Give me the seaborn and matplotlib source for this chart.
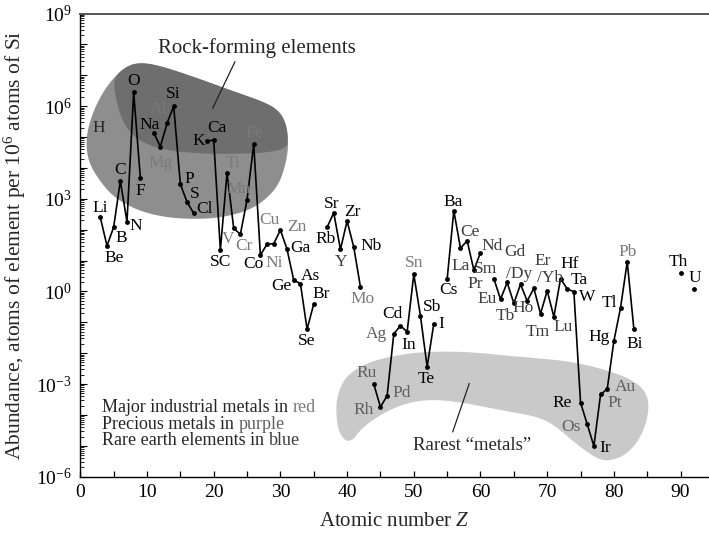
import numpy as np
import pandas as pd
import matplotlib
matplotlib.use("Agg")
import matplotlib.pyplot as plt
import seaborn as sns
from matplotlib.ticker import FixedLocator, FuncFormatter, LogLocator, MultipleLocator, NullFormatter

# ---------------- data ----------------
elements = ["Li", "Be", "B", "C", "N", "O", "F",
            "Na", "Mg", "Al", "Si", "P", "S", "Cl",
            "K", "Ca", "Sc", "Ti", "V", "Cr", "Mn", "Fe", "Co", "Ni", "Cu", "Zn",
            "Ga", "Ge", "As", "Se", "Br",
            "Rb", "Sr", "Y", "Zr", "Nb", "Mo",
            "Ru", "Rh", "Pd", "Ag", "Cd", "In", "Sn", "Sb", "Te", "I",
            "Cs", "Ba", "La", "Ce", "Pr", "Nd",
            "Sm", "Eu", "Gd", "Tb", "Dy", "Ho", "Er", "Tm", "Yb", "Lu",
            "Hf", "Ta", "W", "Re", "Os", "Ir", "Pt", "Au", "Hg", "Tl", "Pb", "Bi",
            "Th", "U"]
atomic_number = [3, 4, 5, 6, 7, 8, 9,
                 11, 12, 13, 14, 15, 16, 17,
                 19, 20, 21, 22, 23, 24, 25, 26, 27, 28, 29, 30,
                 31, 32, 33, 34, 35,
                 37, 38, 39, 40, 41, 42,
                 44, 45, 46, 47, 48, 49, 50, 51, 52, 53,
                 55, 56, 57, 58, 59, 60,
                 62, 63, 64, 65, 66, 67, 68, 69, 70, 71,
                 72, 73, 74, 75, 76, 77, 78, 79, 80, 81, 82, 83,
                 90, 92]
abundance = [2.5e2, 3.0e1, 1.2e2, 3.8e3, 1.8e2, 2.8e6, 4.8e3,
             1.4e5, 4.9e4, 2.75e5, 1.0e6, 3.0e3, 7.9e2, 3.4e2,
             7.4e4, 7.9e4, 2.2e1, 6.9e3, 1.1e2, 7.1e1, 9.3e2, 5.9e4, 1.5e1, 3.4e1, 3.5e1, 9.8e1,
             2.3e1, 2.3, 1.8, 6.0e-2, 3.9e-1,
             1.2e2, 3.5e2, 2.3e1, 1.9e2, 2.7e1, 1.4,
             1.0e-3, 1.8e-4, 4.2e-4, 4.2e-2, 7.8e-2, 4.9e-2, 3.6, 1.6e-1, 3.6e-3, 9.1e-2,
             2.5, 4.1e2, 2.5e1, 4.4e1, 4.9, 1.8e1,
             2.6, 5.6e-1, 1.95, 4.1e-1, 1.7, 4.9e-1, 1.26, 1.9e-1, 1.05, 1.5e-1,
             2.6, 1.2, 0.98, 2.5e-4, 5.0e-5, 9.8e-6, 4.6e-4, 6.9e-4, 2.5e-2, 3.0e-1, 9.1, 5.9e-2,
             4.0, 1.2]

label_text = {"Sc": "SC", "Dy": "/Dy", "Yb": "/Yb"}
industrial_metals = ["Mg", "Al", "Ti", "V", "Cr", "Mn", "Fe", "Ni", "Cu", "Zn", "Mo", "Sn", "Pb"]
precious_metals = ["Ru", "Rh", "Pd", "Ag", "Os", "Pt", "Au"]
rare_earths = ["Y", "La", "Ce", "Pr", "Nd", "Sm", "Eu", "Gd", "Tb", "Dy", "Ho", "Er", "Tm", "Yb", "Lu"]

x_ticks = [0, 10, 20, 30, 40, 50, 60, 70, 80, 90]
y_exponents = [-6, -3, 0, 3, 6, 9]

# label offsets (pixels, right / down)
label_offset = {
    "Li": (0, -9), "Be": (7, 12), "B": (8, 11), "C": (0, -11), "N": (9, 4), "O": (0, -11),
    "F": (0, 13), "Na": (-4, -8), "Mg": (0, 16), "Al": (-8, -14), "Si": (0, -12),
    "P": (9, -5), "S": (8, -8), "Cl": (11, -4), "K": (-8, 0), "Ca": (3, -12),
    "Sc": (0, 12), "Ti": (6, -10), "V": (-6, 11), "Cr": (4, 12), "Mn": (-8, -11),
    "Fe": (0, -11), "Co": (-7, 9), "Ni": (7, 19), "Cu": (-4, -24), "Zn": (16, -3),
    "Ga": (13, -1), "Ge": (-12, 6), "As": (10, -8), "Se": (0, 12), "Br": (7, -10),
    "Rb": (-2, 12), "Sr": (-2, -9), "Y": (1, 13), "Zr": (5, -9), "Nb": (17, -1),
    "Mo": (2, 12), "Ru": (-7, -11), "Rh": (-17, 3), "Pd": (15, -3), "Ag": (-17, 0),
    "Cd": (-8, -12), "In": (2, 13), "Sn": (0, -11), "Sb": (12, -9), "Te": (-1, 12),
    "I": (7, 0), "Cs": (1, 11), "Ba": (-1, -9), "La": (0, 18), "Ce": (3, -9),
    "Pr": (1, 14), "Nd": (12, -7), "Sm": (-8, -10), "Eu": (-13, 0), "Gd": (8, -30),
    "Tb": (-9, 13), "Dy": (-1, -10), "Ho": (-4, 7), "Er": (9, -27), "Tm": (-3, 18),
    "Yb": (3, -13), "Lu": (9, 10), "Hf": (9, -15), "Ta": (12, -9), "W": (13, 5),
    "Re": (-18, 0), "Os": (-16, 3), "Ir": (11, 2), "Pt": (14, 9), "Au": (18, -2),
    "Hg": (-15, -4), "Tl": (-11, -5), "Pb": (0, -10), "Bi": (1, 15), "Th": (-2, -11),
    "U": (1, -11),
}

# outlines of the shaded regions (Z, log10 abundance)
rock_outer = [(4.90, 6.91), (7.15, 7.33), (9.40, 7.41), (12.40, 7.28), (17.50, 6.91),
              (22.44, 6.52), (27.99, 6.10), (29.94, 5.81), (30.84, 5.42), (31.14, 5.00),
              (31.14, 4.58), (30.69, 4.03), (29.64, 3.41), (27.54, 2.93), (24.99, 2.60),
              (20.94, 2.38), (16.45, 2.34), (12.40, 2.41), (8.50, 2.63), (4.90, 3.06),
              (2.50, 3.70), (1.15, 4.25), (0.85, 4.90), (1.45, 5.55), (2.95, 6.30)]
rock_inner = [(4.90, 6.91), (7.15, 7.33), (9.40, 7.41), (12.40, 7.28), (17.50, 6.91),
              (22.44, 6.52), (27.99, 6.10), (29.94, 5.81), (30.84, 5.42), (31.14, 5.00),
              (30.99, 4.64), (27.99, 4.49), (22.44, 4.45), (17.50, 4.47), (12.40, 4.58),
              (8.50, 4.90), (6.40, 5.45), (5.35, 6.20)]
rare_blob = [(38.49, -3.42), (39.24, -2.97), (40.44, -2.65), (42.68, -2.35), (45.38, -2.16),
             (49.43, -2.00), (52.87, -1.95), (56.92, -1.95), (60.37, -2.00), (64.42, -2.09),
             (68.92, -2.17), (73.87, -2.28), (78.97, -2.55), (82.87, -2.87), (84.97, -3.29),
             (85.27, -3.84), (84.52, -4.49), (83.02, -5.04), (80.92, -5.40), (78.37, -5.50),
             (76.42, -5.27), (73.87, -4.85), (71.47, -4.40), (68.92, -4.07), (62.92, -3.84),
             (56.93, -3.58), (51.93, -3.49), (47.93, -3.68), (44.44, -4.06), (41.94, -4.49),
             (40.89, -4.82), (39.69, -4.85), (38.64, -4.49), (38.34, -3.91)]

# ---------------- style ----------------
sns.set_theme(style="ticks")
plt.rcParams["font.family"] = ["Liberation Serif", "DejaVu Serif"]
plt.rcParams["mathtext.fontset"] = "custom"
plt.rcParams["mathtext.rm"] = "Liberation Serif"
plt.rcParams["mathtext.it"] = "Liberation Serif:italic"

df = pd.DataFrame({"element": elements, "Z": atomic_number, "abundance": abundance})
df["segment"] = (df["Z"].diff().fillna(1) != 1).cumsum()

fig = plt.figure(figsize=(7.09, 5.34), dpi=100)
ax = fig.add_axes([80.3 / 709, 57.3 / 534, (709 - 80.3) / 709, (476.7 - 13.5) / 534])


def chaikin(pts, n=4):
    p = np.asarray(pts, dtype=float)
    for _ in range(n):
        q = np.roll(p, -1, axis=0)
        new = np.empty((2 * len(p), 2))
        new[0::2] = 0.75 * p + 0.25 * q
        new[1::2] = 0.25 * p + 0.75 * q
        p = new
    return p


for shape, col in [(rock_outer, "#8e8e8e"), (rock_inner, "#6e6e6e"), (rare_blob, "#c9c9c9")]:
    s = chaikin(shape)
    ax.fill(s[:, 0], 10 ** s[:, 1], color=col, lw=0, zorder=1)

sns.lineplot(data=df, x="Z", y="abundance", units="segment", estimator=None,
             color="black", lw=1.2, marker="o", markersize=3.5, markeredgewidth=0,
             ax=ax, zorder=3, legend=False)

for el, z, a in zip(elements, atomic_number, abundance):
    dx, dy = label_offset.get(el, (0, -10))
    if el in industrial_metals:
        c = "#7a7a7a"
    elif el in precious_metals:
        c = "#606060"
    elif el in rare_earths:
        c = "#3c3c3c"
    else:
        c = "black"
    ax.annotate(label_text.get(el, el), (z, a), xytext=(dx * 0.72, -dy * 0.72),
                textcoords="offset points", ha="center", va="center",
                fontsize=12.5, color=c, zorder=4)

ax.text(2.7, 10 ** 5.28, "H", fontsize=12.5, ha="center", va="center", zorder=4)

# annotations
ax.text(11.69, 10 ** 7.88, "Rock-forming elements", fontsize=15, ha="left", va="center")
ax.plot([23.19, 19.85], [10 ** 7.44, 10 ** 5.93], color="#222222", lw=0.9, zorder=2)
ax.text(49.88, 10 ** -4.98, "Rarest \u201cmetals\u201d", fontsize=13.5, ha="left", va="center")
ax.plot([58.32, 55.83], [10 ** -2.98, 10 ** -4.55], color="#222222", lw=0.9, zorder=2)

legend_lines = [("Major industrial metals in", "red", "#7a7a7a"),
                ("Precious metals in", "purple", "#606060"),
                ("Rare earth elements in", "blue", "#3c3c3c")]
for i, (t, w, c) in enumerate(legend_lines):
    y = 0.149 - i * 0.0355
    t1 = ax.text(0.0345, y, t, transform=ax.transAxes, fontsize=13, ha="left", va="center")
    ax.annotate(w, xy=(1, 0), xycoords=t1, xytext=(3.3, 0), textcoords="offset points",
                ha="left", va="bottom", fontsize=13, color=c)

# axes
ax.set_yscale("log")
ax.set_xlim(0, (709 - 80.3) / 6.67)
ax.set_ylim(1e-6, 1e9)
ax.xaxis.set_major_locator(FixedLocator(x_ticks))
ax.xaxis.set_minor_locator(MultipleLocator(5))
decades = [10.0 ** e for e in range(-6, 10)]
ax.yaxis.set_major_locator(FixedLocator(decades))
ax.yaxis.set_major_formatter(FuncFormatter(
    lambda v, p: (r"$10^{%d}$" % round(np.log10(v))) if round(np.log10(v)) in y_exponents else ""))
ax.yaxis.set_minor_locator(LogLocator(base=10, subs=np.arange(2, 10), numticks=100))
ax.yaxis.set_minor_formatter(NullFormatter())
ax.tick_params(axis="both", which="both", direction="in", colors="black", labelsize=14)
ax.tick_params(axis="x", which="both", length=4, width=0.9, pad=5)
ax.tick_params(axis="y", which="major", length=5, width=0.8, pad=6)
ax.tick_params(axis="y", which="minor", length=3, width=0.6)
ax.set_xlabel("Atomic number $Z$", fontsize=15, labelpad=8)
ax.set_ylabel("Abundance, atoms of element per $10^6$ atoms of Si", fontsize=15.5, labelpad=6)
for side in ["left", "bottom"]:
    ax.spines[side].set_color("black")
    ax.spines[side].set_linewidth(1.0)
ax.spines["top"].set_color("#555555")
ax.spines["top"].set_linewidth(1.4)
ax.spines["right"].set_visible(False)
ax.set_facecolor("white")

fig.savefig("out.png", dpi=100)
